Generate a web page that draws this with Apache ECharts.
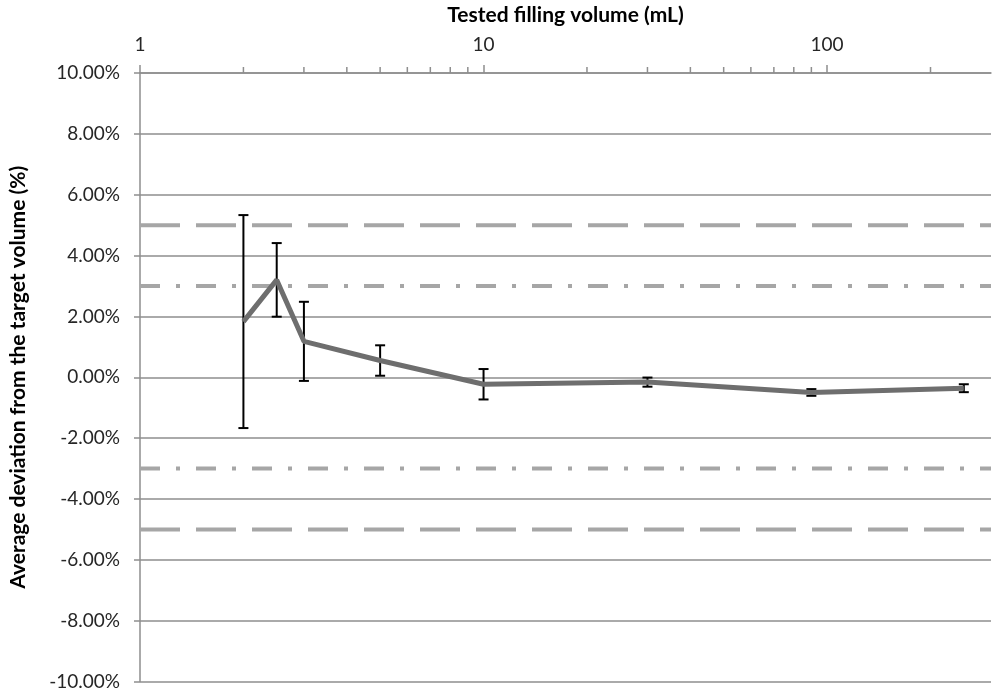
<!DOCTYPE html>
<html>
<head>
<meta charset="utf-8">
<script src="https://cdn.jsdelivr.net/npm/echarts@6/dist/echarts.min.js"></script>
<style>
html,body{margin:0;padding:0;background:#fff;}
#chart{width:993px;height:691px;}
</style>
</head>
<body>
<div id="chart"></div>
<script>
// Tested filling volumes (mL)
const volumes = [2, 2.5, 3, 5, 10, 30, 90, 250];
// Average deviation from target volume (%)
const deviation = [1.83, 3.2, 1.18, 0.55, -0.23, -0.16, -0.5, -0.36];
// Error bar half-widths (%)
const errors = [3.5, 1.21, 1.3, 0.5, 0.5, 0.15, 0.11, 0.13];
// Reference limits (%)
const limitsDashed = [5, -5];
const limitsDashDot = [3, -3];
// Minor tick positions on the log axis
const minorTicks = [2, 3, 4, 5, 6, 7, 8, 9, 20, 30, 40, 50, 60, 70, 80, 90, 200];
const xMin = 1, xMax = 300;
const yMin = -10, yMax = 10, yStep = 2;

const FONT = 'Lato';
const gridColor = '#8e8e8e';
const refColor = '#a6a6a6';

const mainData = volumes.map((v, i) => [v, deviation[i]]);
const errData = volumes.map((v, i) => [v, deviation[i] - errors[i], deviation[i] + errors[i]]);

function refSeries(level, dash) {
  return {
    type: 'line',
    data: [[xMin, level], [xMax, level]],
    symbol: 'none',
    silent: true,
    z: 1,
    lineStyle: { color: refColor, width: 4, type: dash, cap: 'butt' },
    animation: false
  };
}

const series = [];
limitsDashed.forEach(l => series.push(refSeries(l, [40, 16])));
limitsDashDot.forEach(l => series.push(refSeries(l, [20, 16, 4, 16])));

series.push({
  type: 'custom',
  z: 2,
  clip: false,
  silent: true,
  data: errData,
  encode: { x: 0, y: [1, 2] },
  renderItem: function (params, api) {
    const x = api.value(0);
    const lo = api.coord([x, api.value(1)]);
    const hi = api.coord([x, api.value(2)]);
    const hw = 5;
    const st = { stroke: '#000', lineWidth: 2 };
    return {
      type: 'group',
      children: [
        { type: 'line', shape: { x1: hi[0], y1: hi[1], x2: lo[0], y2: lo[1] }, style: st },
        { type: 'line', shape: { x1: hi[0] - hw, y1: hi[1], x2: hi[0] + hw, y2: hi[1] }, style: st },
        { type: 'line', shape: { x1: lo[0] - hw, y1: lo[1], x2: lo[0] + hw, y2: lo[1] }, style: st }
      ]
    };
  },
  animation: false
});

series.push({
  type: 'line',
  data: mainData,
  symbol: 'none',
  z: 3,
  lineStyle: { color: '#6e6e6e', width: 5 },
  animation: false
});

series.push({
  type: 'custom',
  z: 4,
  clip: false,
  silent: true,
  data: minorTicks.map(v => [v, yMax]),
  encode: { x: 0, y: 1 },
  renderItem: function (params, api) {
    const p = api.coord([api.value(0), api.value(1)]);
    return {
      type: 'line',
      shape: { x1: p[0], y1: p[1], x2: p[0], y2: p[1] - 6 },
      style: { stroke: gridColor, lineWidth: 1.5 }
    };
  },
  animation: false
});

const chart = echarts.init(document.getElementById('chart'));
chart.setOption({
  backgroundColor: '#fff',
  animation: false,
  grid: { left: 138, right: 2, top: 72, bottom: 9, containLabel: false },
  xAxis: {
    type: 'log',
    logBase: 10,
    min: xMin,
    max: xMax,
    position: 'top',
    name: 'Tested filling volume (mL)',
    nameLocation: 'middle',
    nameGap: 47,
    nameTextStyle: { fontFamily: FONT, fontWeight: 'bold', fontSize: 21, color: '#000' },
    axisLine: { show: true, onZero: false, lineStyle: { color: gridColor, width: 1.5 } },
    axisTick: { show: true, length: 8, lineStyle: { color: gridColor, width: 1.5 } },
    axisLabel: {
      fontFamily: FONT, fontSize: 19, color: '#262626', margin: 19,
      showMaxLabel: false,
      formatter: function (v) {
        const l = Math.log10(v);
        return Math.abs(l - Math.round(l)) < 1e-6 ? String(Math.round(v)) : '';
      }
    },
    splitLine: { show: false },
    minorTick: { show: false }
  },
  yAxis: {
    type: 'value',
    min: yMin,
    max: yMax,
    interval: yStep,
    name: 'Average deviation from the target volume (%)',
    nameLocation: 'middle',
    nameGap: 111,
    nameTextStyle: { fontFamily: FONT, fontWeight: 'bold', fontSize: 21, color: '#000' },
    axisLine: { show: true, onZero: false, lineStyle: { color: gridColor, width: 1.5 } },
    axisTick: { show: true, length: 6, lineStyle: { color: gridColor, width: 1.5 } },
    axisLabel: {
      fontFamily: FONT, fontSize: 19, color: '#262626', margin: 20,
      formatter: v => v.toFixed(2) + '%'
    },
    splitLine: { show: true, lineStyle: { color: gridColor, width: 1.5 } }
  },
  series: series
});
</script>
</body>
</html>
